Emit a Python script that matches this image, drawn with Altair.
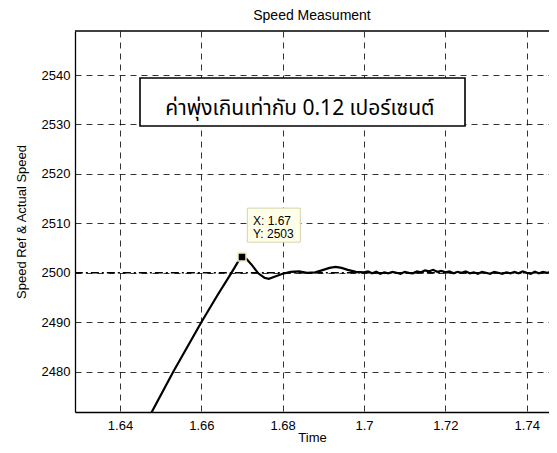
import altair as alt
import pandas as pd

# ---- data ----
time_s = [1.6470, 1.6531, 1.6600, 1.6640, 1.6674, 1.6690, 1.6700, 1.6710, 1.6725,
          1.6740, 1.6755, 1.6766, 1.6780, 1.6800, 1.6820, 1.6840, 1.6860, 1.6880,
          1.6900, 1.6915, 1.6930, 1.6945, 1.6960, 1.6980,
          1.700, 1.701, 1.702, 1.703, 1.704, 1.705, 1.706, 1.707, 1.708, 1.709,
          1.710, 1.711, 1.712, 1.713, 1.714, 1.715, 1.716, 1.717, 1.718, 1.719,
          1.720, 1.721, 1.722, 1.723, 1.724, 1.725, 1.726, 1.727, 1.728, 1.729,
          1.730, 1.731, 1.732, 1.733, 1.734, 1.735, 1.736, 1.737, 1.738, 1.739,
          1.740, 1.741, 1.742, 1.743, 1.744, 1.745, 1.746, 1.747]
actual_speed = [2470.6, 2480.0, 2490.0, 2495.5, 2500.0, 2502.2, 2503.2, 2502.9, 2501.5,
                2499.9, 2499.0, 2498.8, 2499.2, 2499.8, 2500.2, 2500.3, 2500.0, 2500.1,
                2500.6, 2501.0, 2501.2, 2501.0, 2500.6, 2500.2,
                2500.1, 2500.3, 2499.9, 2500.2, 2499.8, 2500.1, 2499.9, 2500.2, 2500.0, 2499.8,
                2500.2, 2500.0, 2499.9, 2500.3, 2500.1, 2500.5, 2500.3, 2500.6, 2500.2, 2500.4,
                2500.1, 2500.3, 2499.9, 2500.2, 2500.0, 2500.3, 2499.9, 2500.1, 2499.8, 2500.2,
                2500.0, 2499.8, 2500.2, 2500.0, 2499.8, 2500.1, 2499.9, 2500.2, 2499.9, 2500.3,
                2500.0, 2499.8, 2500.2, 2499.9, 2500.2, 2500.0, 2500.2, 2499.9]
ref_time = [1.6289, 1.7475]
ref_speed = [2500, 2500]

x_ticks = [1.64, 1.66, 1.68, 1.70, 1.72, 1.74]
y_ticks = [2480, 2490, 2500, 2510, 2520, 2530, 2540]
x_domain = [1.62894, 1.74548]
y_domain = [2471.85, 2548.9]

tip_x, tip_y = 1.67, 2503.2
tip_lines = ["X: 1.67", "Y: 2503"]
note_text = "ค่าพุ่งเกินเท่ากับ 0.12 เปอร์เซนต์"

FONT = "Liberation Sans, Arial, sans-serif"
THAI_FONT = "Noto Sans Thai, Tahoma, Loma, Garuda, Noto Sans, DejaVu Sans, sans-serif"

xs = alt.Scale(domain=x_domain, nice=False, zero=False)
ys = alt.Scale(domain=y_domain, nice=False, zero=False)

actual_df = pd.DataFrame({"t": time_s, "v": actual_speed})
ref_df = pd.DataFrame({"t": ref_time, "v": ref_speed})

x_axis = alt.Axis(values=x_ticks, format=".2~f", grid=True, gridDash=[6, 5],
                  gridColor="#000000", gridOpacity=1, gridWidth=0.8,
                  domainColor="#000000", domainWidth=1.3, tickSize=0,
                  labelFontSize=13, labelFont=FONT, labelColor="#000000",
                  labelBaseline="alphabetic", labelPadding=17,
                  title="Time", titleFont=FONT, titleFontSize=13,
                  titleFontWeight="normal", titleColor="#000000",
                  titleBaseline="alphabetic", titleY=29)
y_axis = alt.Axis(values=y_ticks, format="d", grid=True, gridDash=[6, 5],
                  gridColor="#000000", gridOpacity=1, gridWidth=0.8,
                  domainColor="#000000", domainWidth=1.3, tickSize=0,
                  labelFontSize=13, labelFont=FONT, labelColor="#000000",
                  labelPadding=5,
                  title="Speed Ref & Actual Speed", titleFont=FONT, titleFontSize=13,
                  titleFontWeight="normal", titleColor="#000000",
                  titleAngle=270, titleBaseline="alphabetic", titleX=-50)

ref_line = alt.Chart(ref_df).mark_line(color="#000000", strokeWidth=1.5,
                                       strokeDash=[8, 3, 2, 3], clip=True).encode(
    x=alt.X("t:Q", scale=xs, axis=x_axis),
    y=alt.Y("v:Q", scale=ys, axis=y_axis),
)

actual_line = alt.Chart(actual_df).mark_line(color="#000000", strokeWidth=2.2,
                                             clip=True).encode(
    x=alt.X("t:Q", scale=xs),
    y=alt.Y("v:Q", scale=ys),
)

# annotation box with Thai note
note_df = pd.DataFrame({"x1": [1.64492], "x2": [1.72483], "y1": [2539.4], "y2": [2529.7],
                        "tx": [1.68422], "ty": [2531.9], "label": [note_text]})
note_box = alt.Chart(note_df).mark_rect(fill="#ffffff", stroke="#000000",
                                        strokeWidth=1.6).encode(
    x=alt.X("x1:Q", scale=xs), x2="x2:Q",
    y=alt.Y("y1:Q", scale=ys), y2="y2:Q")
note_txt = alt.Chart(note_df).mark_text(font=THAI_FONT, fontSize=21, color="#000000",
                                        align="center", baseline="alphabetic").encode(
    x=alt.X("tx:Q", scale=xs), y=alt.Y("ty:Q", scale=ys), text="label:N")

# data tip
tip_box_df = pd.DataFrame({"x1": [1.67131], "x2": [1.68434], "y1": [2513.08], "y2": [2506.2]})
tip_box = alt.Chart(tip_box_df).mark_rect(fill="#ffffe8", stroke="#d6d2ae",
                                          strokeWidth=1).encode(
    x=alt.X("x1:Q", scale=xs), x2="x2:Q",
    y=alt.Y("y1:Q", scale=ys), y2="y2:Q")
tip_txt_df = pd.DataFrame({"x": [1.6727, 1.6727], "y": [2509.65, 2506.96], "label": tip_lines})
tip_txt = alt.Chart(tip_txt_df).mark_text(font=FONT, fontSize=12, color="#000000",
                                          align="left", baseline="alphabetic").encode(
    x=alt.X("x:Q", scale=xs), y=alt.Y("y:Q", scale=ys), text="label:N")
tip_pt = alt.Chart(pd.DataFrame({"x": [tip_x], "y": [tip_y]})).mark_point(
    shape="square", filled=True, size=64, fill="#000000", stroke="#f2ecb8",
    strokeWidth=1.5, opacity=1).encode(
    x=alt.X("x:Q", scale=xs), y=alt.Y("y:Q", scale=ys))

top_border = alt.Chart(pd.DataFrame({"a": [0]})).mark_rule(
    color="#000000", strokeWidth=1.3).encode(
    x=alt.value(0), x2=alt.value(474), y=alt.value(0))

chart = alt.layer(ref_line, actual_line, note_box, note_txt, tip_box, tip_txt,
                  tip_pt, top_border).properties(
    width=474, height=381,
    title=alt.TitleParams("Speed Measument", font=FONT, fontSize=14,
                          fontWeight="normal", color="#000000", anchor="middle",
                          frame="group", baseline="alphabetic", offset=1, dy=5),
    autosize=alt.AutoSizeParams(type="none"),
    padding={"left": 67, "top": 23, "right": 0, "bottom": 33},
    background="#ffffff",
).configure_view(stroke=None)

chart.save("out.html", embed_options={"renderer": "svg", "actions": False})
